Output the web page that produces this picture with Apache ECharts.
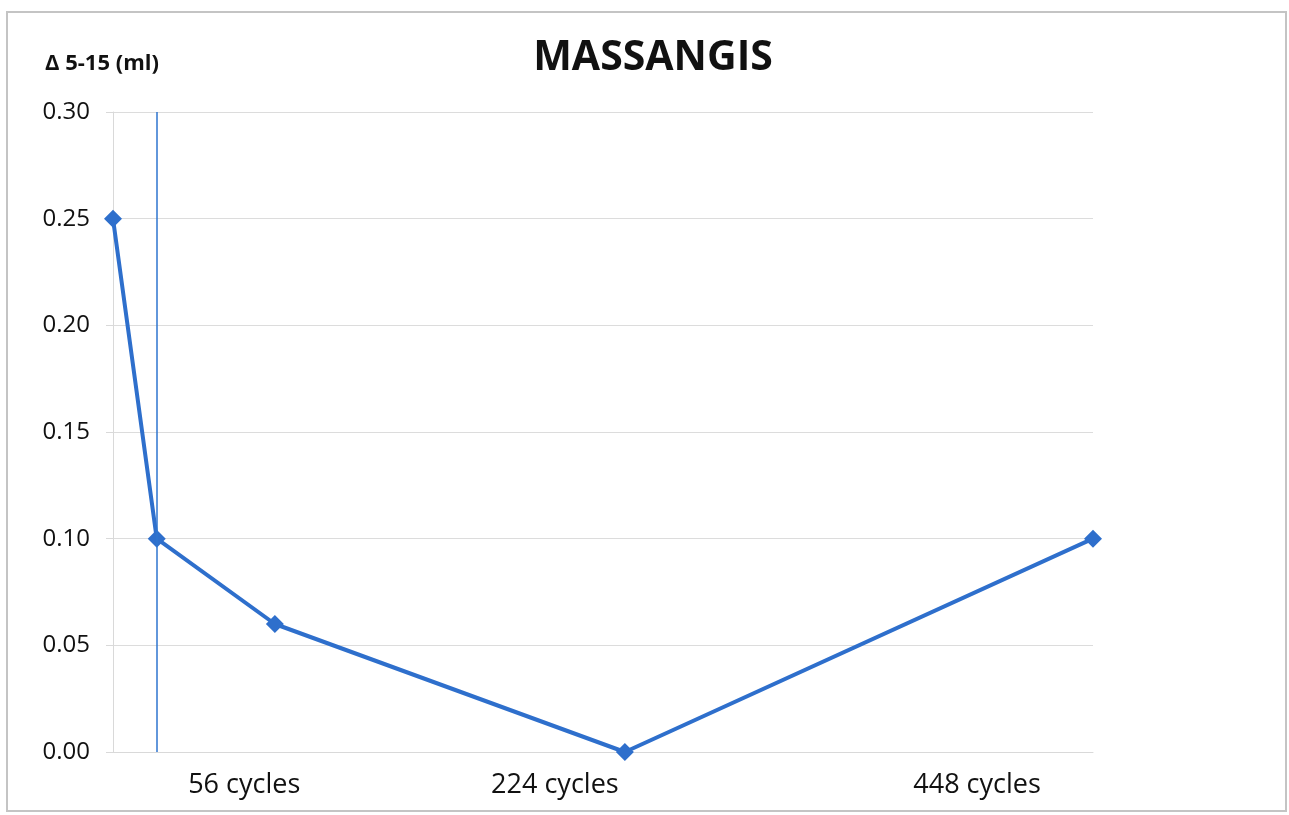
<!DOCTYPE html>
<html>
<head>
<meta charset="utf-8">
<script src="https://cdn.jsdelivr.net/npm/echarts@6/dist/echarts.min.js"></script>
<style>
  html, body { margin: 0; padding: 0; background: #fff; }
  #chart { width: 1289px; height: 815px; }
</style>
</head>
<body>
<div id="chart"></div>
<script>
// x position of each point (cycles scale) and measured value
var xValues = [0, 20, 74, 234, 448];
var yValues = [0.25, 0.10, 0.06, 0.00, 0.10];
// where the cycle labels sit on the x scale, and their text
var labelPos = [60, 202, 395];
var labelText = ['56 cycles', '224 cycles', '448 cycles'];
var markerX = 20;

var chart = echarts.init(document.getElementById('chart'));

var points = xValues.map(function(x, i) { return [x, yValues[i]]; });

var option = {
  backgroundColor: '#fff',
  animation: false,
  title: [{
    text: 'MASSANGIS',
    left: 648,
    textAlign: 'center',
    top: 33,
    textStyle: { fontFamily: 'Open Sans', fontWeight: 'bold', fontSize: 41, color: '#111' }
  }, {
    text: 'Δ 5-15 (ml)',
    left: 40,
    top: 48,
    textStyle: { fontFamily: 'Open Sans', fontWeight: 'bold', fontSize: 22, color: '#111' }
  }],
  graphic: [{
    type: 'rect',
    shape: { x: 7, y: 12, width: 1279, height: 799 },
    style: { fill: 'none', stroke: '#c4c4c4', lineWidth: 2 },
    silent: true
  }],
  grid: { left: 113, right: 196, top: 112, bottom: 63 },
  xAxis: {
    type: 'value',
    min: 0,
    max: 448,
    splitLine: { show: false },
    axisLine: { show: true, lineStyle: { color: '#d9d9d9' } },
    axisTick: { show: false },
    axisLabel: {
      customValues: labelPos,
      margin: 20,
      fontFamily: 'Open Sans',
      fontSize: 27,
      color: '#111',
      formatter: function(v) {
        var i = labelPos.indexOf(v);
        return i >= 0 ? labelText[i] : '';
      }
    }
  },
  yAxis: {
    type: 'value',
    min: 0,
    max: 0.3,
    interval: 0.05,
    axisLine: { show: true, lineStyle: { color: '#d9d9d9' } },
    axisTick: { show: true, length: 7, lineStyle: { color: '#d9d9d9' } },
    splitLine: { lineStyle: { color: '#dcdcdc', width: 1 } },
    axisLabel: {
      margin: 23,
      fontFamily: 'Open Sans',
      fontSize: 24,
      color: '#111',
      formatter: function(v) { return v.toFixed(2); }
    }
  },
  series: [{
    type: 'line',
    data: points,
    symbol: 'diamond',
    symbolSize: 18,
    showAllSymbol: true,
    lineStyle: { color: '#2e6fcc', width: 4 },
    itemStyle: { color: '#2e6fcc' },
    markLine: {
      silent: true,
      symbol: 'none',
      label: { show: false },
      lineStyle: { color: '#2e75cf', width: 1.5, type: 'solid' },
      data: [{ xAxis: markerX }]
    }
  }]
};

chart.setOption(option);
window.onresize = function() { chart.resize(); };
</script>
</body>
</html>
